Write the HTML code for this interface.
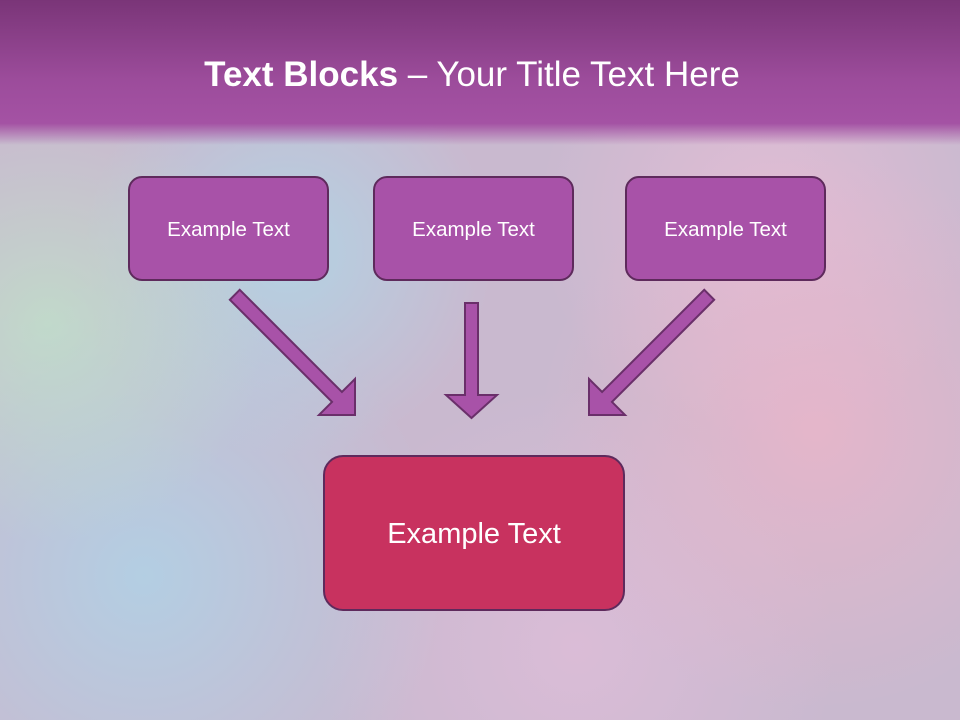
<!DOCTYPE html>
<html><head><meta charset="utf-8"><style>
html,body{margin:0;padding:0}
body{width:960px;height:720px;position:relative;overflow:hidden;font-family:"Liberation Sans",sans-serif;
background:
radial-gradient(circle at 5% 45%,rgba(190,230,200,.7),transparent 22%),
radial-gradient(circle at 30% 35%,rgba(170,220,235,.7),transparent 25%),
radial-gradient(circle at 15% 80%,rgba(170,215,235,.7),transparent 30%),
radial-gradient(circle at 85% 60%,rgba(240,180,200,.7),transparent 30%),
radial-gradient(circle at 80% 30%,rgba(235,190,215,.7),transparent 25%),
radial-gradient(circle at 60% 90%,rgba(230,190,220,.6),transparent 30%),
#c9b9cf;}
.hdr{position:absolute;left:0;top:0;width:960px;height:145px;background:linear-gradient(#7a3578 0%,#9c4c9b 55%,#a452a4 85%,rgba(164,82,164,0) 100%)}
.title{position:absolute;top:55px;left:0;width:944px;text-align:center;color:#fff;font-size:35px}
.box{position:absolute;box-sizing:border-box;border:2.5px solid #5e2a5c;border-radius:14px;background:#a852a8;color:#fff;font-size:20.5px;text-align:center}
</style></head><body>
<div class="hdr"></div>
<div class="title"><b>Text Blocks</b> – Your Title Text Here</div>
<div class="box" style="left:128px;top:176px;width:201px;height:105px;padding-top:40px">Example Text</div>
<div class="box" style="left:373px;top:176px;width:201px;height:105px;padding-top:40px">Example Text</div>
<div class="box" style="left:625px;top:176px;width:201px;height:105px;padding-top:40px">Example Text</div>
<div class="box" style="left:323px;top:455px;width:302px;height:156px;padding-top:61px;background:#c8325f;font-size:29px;border-radius:20px">Example Text</div>
<svg width="960" height="720" style="position:absolute;left:0;top:0">
<g fill="#a852a8" stroke="#6a2f6a" stroke-width="2">
<polygon points="465,303 478,303 478,395 497,395 471.5,418 446,395 465,395"/>
<polygon transform="translate(355,415) rotate(45)" points="-170,-7 -25.5,-7 -25.5,-25.5 0,0 -25.5,25.5 -25.5,7 -170,7"/>
<polygon transform="translate(589,415) rotate(135)" points="-170,-7 -25.5,-7 -25.5,-25.5 0,0 -25.5,25.5 -25.5,7 -170,7"/>
</g>
</svg>
</body></html>
